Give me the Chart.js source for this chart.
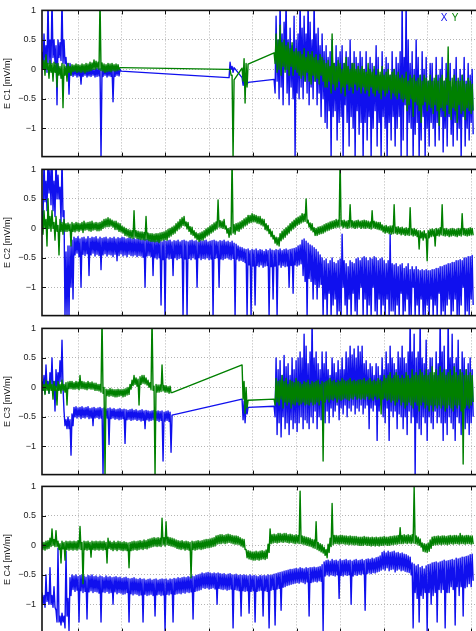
<!DOCTYPE html>
<html><head><meta charset="utf-8">
<script src="https://cdn.jsdelivr.net/npm/chart.js@4.4.0/dist/chart.umd.min.js"></script>
<style>
html,body{margin:0;padding:0;width:476px;height:631px;overflow:hidden;background:#fff;}
canvas{position:absolute;left:0;}
</style></head><body>
<canvas id="p0" width="480" height="169" style="top:-1px;width:480px;height:169px"></canvas>
<canvas id="p1" width="480" height="169" style="top:158px;width:480px;height:169px"></canvas>
<canvas id="p2" width="480" height="169" style="top:317px;width:480px;height:169px"></canvas>
<canvas id="p3" width="480" height="169" style="top:475px;width:480px;height:169px"></canvas>
<script>
const _ = null;
// time axis (hours). Each series is stored as two sample lists: "U" = the high sample of every
// time bin (at t0 + i*dt) and "L" = the low sample of the same bin (half a bin later).
const t0 = 0.176, dt = 0.04577;
const xRange = [0.176, 10.15];
const xGrid = [1,2,3,4,5,6,7,8,9,10];
const yRange = [-1.48, 1];
const yTicks = [-1, -0.5, 0, 0.5, 1];
const panelLabels = ['E C1 [mV/m]', 'E C2 [mV/m]', 'E C3 [mV/m]', 'E C4 [mV/m]'];
const seriesNames = ['X', 'Y'];

// ================= C1 =================
const c1XU = [
0.3,0.6,0.4,1.2,0.5,1.2,0.5,0.4,0.5,0.45,1.2,0.5,0.2,0.1,0.1,
0.02,0,0.03,0.01,0,0.02,0.01,0.03,0,0.02,0.01,0,0.03,0.02,0.01,0,0.03,0.02,0,0.01,0.02,0,0.01,0.02,0,
_,_,_,_,_,_,_,_,_,_,
_,_,_,_,_,_,_,_,_,_,
_,_,_,_,_,_,_,_,_,_,
_,_,_,_,_,_,_,_,_,_,
_,_,_,_,_,_,_,_,_,_,
_,_,_,
-0.14,0.12,0.05,0.03,
_,_,_,
-0.14,-0.16,-0.18,-0.22,
_,_,_,_,_,_,_,_,_,_,_,_,
-0.17,0.9,0.5,1.2,0.6,0.8,1.2,0.5,0.7,0.4,0.9,0.5,0.6,
1.2,0.7,0.9,0.6,1.2,0.8,0.5,1.2,0.6,0.7,0.4,0.6,0.3,
0.4,0.2,0.3,0.5,0.1,0.4,0.2,0.3,0.4,0.1,0.3,0.2,0.5,0.1,0.3,0.2,0.1,0.3,
0.2,0,0.3,-0.1,0.2,0.1,0,0.4,0.2,-0.1,0.3,0,0.2,0.1,-0.1,0.3,0,0.2,0.1,0.3,
1.2,0.2,1.2,0.5,0.1,0.3,0,0.5,0.2,-0.1,0.3,0,0.2,-0.2,0.1,
0.1,-0.2,0.2,-0.1,0,0.2,-0.2,0.1,-0.1,0.1,-0.3,0,0.2,-0.2,0,-0.1,0.2,-0.2,0.1,-0.1,0
];
const c1XL = [
0,0.1,-0.05,0.1,0.1,0.2,0.1,-0.6,0.2,0.15,0.1,0.1,-0.1,-0.42,-0.1,
-0.12,-0.1,-0.13,-0.11,-0.25,-0.12,-0.1,-0.13,-0.11,-0.12,-0.1,-0.13,-0.12,-0.11,-1.5,-0.12,-0.1,-0.13,-0.11,-0.12,-0.55,-0.12,-0.1,-0.11,-0.03,
_,_,_,_,_,_,_,_,_,_,
_,_,_,_,_,_,_,_,_,_,
_,_,_,_,_,_,_,_,_,_,
_,_,_,_,_,_,_,_,_,_,
_,_,_,_,_,_,_,_,_,_,
_,_,_,
-0.14,0,-0.05,_,
_,_,_,
-0.27,-0.24,-0.25,_,
_,_,_,_,_,_,_,_,_,_,_,_,
-0.4,-0.2,-0.5,-0.3,-0.6,0,-0.4,-0.6,-0.3,-0.5,-1.5,-0.4,-0.5,
-0.3,-0.5,-0.2,-0.4,-0.6,-0.3,-0.5,-0.2,-0.6,-0.4,-0.8,-0.5,-0.9,
-1.0,-0.7,-1.5,-0.8,-0.7,-1.2,-0.9,-0.8,-1.5,-0.6,-0.9,-1.3,-0.8,-1.0,-1.5,-0.7,-1.1,-0.9,
-1.5,-0.9,-1.2,-0.8,-1.5,-1.0,-0.7,-1.3,-0.9,-1.5,-0.8,-1.0,-1.5,-0.9,-1.2,-0.8,-1.3,-1.0,-0.8,-1.5,
-1.2,-0.6,-1.5,-0.9,-1.0,-1.5,-1.1,-0.9,-1.5,-1.2,-0.8,-1.5,-1.0,-1.3,-0.9,
-1.0,-1.3,-0.9,-1.2,-0.8,-1.4,-1.0,-1.3,-0.8,-1.1,-1.3,-0.9,-1.2,-1.0,-1.5,-0.8,-1.3,-1.0,-1.2,-0.9,-1.1
];
const c1YU = [
0.2,0.15,0.25,0.1,0.15,0.1,0.12,0.1,0.1,0.05,0.1,0.08,0.05,0.1,0.05,
0.08,0.07,0.09,0.08,0.07,0.09,0.08,0.1,0.09,0.12,0.11,0.16,0.14,0.12,1.2,0.11,0.09,0.08,0.1,0.09,0.1,0.08,0.09,0.08,0.03,
_,_,_,_,_,_,_,_,_,_,
_,_,_,_,_,_,_,_,_,_,
_,_,_,_,_,_,_,_,_,_,
_,_,_,_,_,_,_,_,_,_,
_,_,_,_,_,_,_,_,_,_,
_,_,_,
0,0,-0.1,-0.18,
_,_,_,
0.02,0.18,0.1,0.09,
_,_,_,_,_,_,_,_,_,_,_,_,
0.28,0.6,0.5,0.75,0.45,0.5,0.4,0.45,0.35,0.45,0.3,0.35,0.3,
0.3,0.25,0.35,0.2,0.3,0.25,0.3,0.2,0.25,0.15,0.25,0.2,0.15,
0.1,0.15,0.05,0.6,0.1,0.05,0.15,0.1,0,0.1,0.2,0.05,0,0.1,0.1,0,0.05,0,
0.05,0,-0.05,0.1,0,-0.05,0.05,-0.1,0,-0.05,0.05,-0.1,-0.05,0,-0.1,-0.05,0,-0.1,-0.05,-0.15,
-0.1,-0.15,-0.05,-0.2,-0.1,-0.15,-0.1,-0.2,-0.15,-0.1,-0.2,-0.1,-0.15,-0.2,-0.1,
-0.2,-0.15,-0.1,-0.2,-0.15,-0.1,-0.2,-0.15,0.38,-0.2,-0.15,-0.1,-0.2,-0.15,-0.2,-0.1,-0.2,-0.25,-0.15,-0.2,-0.25
];
const c1YL = [
0,-0.1,0,-0.15,-0.05,-0.2,-0.05,-0.3,-0.1,-0.15,-0.65,-0.1,-0.2,-0.05,-0.1,
-0.04,-0.03,-0.05,-0.04,-0.05,-0.04,-0.06,-0.04,-0.03,-0.02,0,0,0.02,0,-0.02,-0.03,-0.05,-0.04,-0.03,-0.04,-0.02,-0.03,-0.02,-0.01,0.03,
_,_,_,_,_,_,_,_,_,_,
_,_,_,_,_,_,_,_,_,_,
_,_,_,_,_,_,_,_,_,_,
_,_,_,_,_,_,_,_,_,_,
_,_,_,_,_,_,_,_,_,_,
_,_,_,
0,-0.1,-1.5,_,
_,_,_,
-0.2,-0.57,-0.3,_,
_,_,_,_,_,_,_,_,_,_,_,_,
0.1,-0.05,0,-0.1,0.05,-0.05,0,-0.1,0.05,-0.1,0,-0.05,-0.1,
-0.15,-0.1,-0.2,-0.05,-0.2,-0.25,-0.1,-0.2,-0.15,-0.25,-0.1,-0.2,-0.3,
-0.3,-0.2,-0.4,-0.25,-0.35,-0.3,-0.2,-0.4,-0.3,-0.45,-0.25,-0.35,-0.3,-0.4,-0.25,-0.35,-0.3,-0.4,
-0.3,-0.4,-0.35,-0.45,-0.3,-0.4,-0.45,-0.35,-0.4,-0.5,-0.35,-0.45,-0.4,-0.35,-0.5,-0.4,-0.45,-0.5,-0.4,-0.5,
-0.55,-0.5,-0.7,-0.6,-0.5,-0.8,-0.55,-0.6,-0.7,-0.9,-0.6,-0.55,-0.7,-0.6,-0.65,
-0.75,-0.6,-0.7,-0.95,-0.65,-0.7,-0.8,-0.6,-0.75,-0.85,-0.65,-0.7,-0.9,-0.6,-0.75,-0.7,-0.85,-0.65,-0.7,-0.75,-0.7
];

// ================= C2 =================
const c2XU = [
0.3,1.2,0.8,1.2,1.0,1.2,0.8,1.2,0.9,0.7,1.2,0.3,-0.4,-0.3,-0.3,-0.2,
-0.15,-0.17,-0.14,-0.18,-0.16,-0.15,-0.18,-0.14,-0.17,-0.15,
-0.16,-0.14,-0.18,-0.15,-0.17,-0.16,-0.15,-0.18,-0.16,-0.17,
-0.15,-0.18,-0.16,-0.17,-0.15,-0.16,-0.18,-0.17,-0.16,-0.18,
-0.17,-0.19,-0.17,-0.18,-0.2,-0.17,-0.19,-0.18,-0.2,-0.19,
-0.2,-0.22,-0.19,-0.21,-0.23,-0.2,-0.22,-0.21,-0.2,-0.23,
-0.21,-0.22,-0.2,-0.23,-0.21,-0.2,-0.22,-0.23,-0.21,-0.2,
-0.22,-0.21,-0.23,-0.2,-0.22,-0.21,-0.2,-0.23,-0.22,-0.21,
-0.2,-0.22,-0.23,-0.21,-0.22,-0.2,-0.23,-0.22,-0.24,-0.22,
-0.25,-0.27,-0.3,-0.32,-0.33,-0.35,
-0.36,-0.35,-0.38,-0.36,-0.37,-0.35,-0.38,-0.36,-0.37,-0.39,
-0.36,-0.38,-0.35,-0.37,-0.38,-0.36,-0.37,-0.35,-0.38,-0.36,
-0.35,-0.37,-0.36,-0.35,-0.34,-0.33,-0.3,-0.28,
-0.2,-0.18,-0.22,-0.25,-0.28,-0.3,-0.33,-0.36,-0.4,-0.45,
-0.5,-0.55,-0.52,-0.6,-0.55,-0.5,-0.58,-0.6,-0.55,-0.52,
-0.1,-0.55,-0.6,-0.65,-0.55,-0.58,-0.6,-0.52,-0.5,-0.55,
-0.5,-0.48,-0.5,-0.55,-0.5,-0.52,-0.48,-0.5,-0.55,-0.52,-0.5,-0.55,-0.6,-0.55,-0.1,
-0.6,-0.62,-0.6,-0.65,-0.62,-0.6,-0.68,-0.65,-0.6,-0.7,
-0.65,-0.7,-0.65,-0.7,-0.72,-0.7,-0.72,-0.7,-0.72,
-0.72,-0.7,-0.7,-0.68,-0.68,-0.65,-0.65,-0.63,-0.62,-0.6,
-0.6,-0.58,-0.58,-0.55,-0.55,-0.53,-0.55,-0.5,-0.5,-0.48,
-0.48,-0.46
];
const c2XL = [
0.1,0.45,0.3,0.6,0.4,0.3,0.2,0.5,0.5,0.1,0.2,-1.5,-1.5,-1.5,-1.0,-1.2,
-0.45,-0.42,-0.48,-1.0,-0.44,-0.46,-0.43,-0.8,-0.45,-0.42,
-0.47,-0.44,-0.46,-0.7,-0.45,-0.43,-0.47,-0.44,-0.45,-0.48,
-0.44,-0.55,-0.46,-0.43,-0.47,-0.45,-0.48,-0.44,-0.46,-0.47,
-0.45,-0.48,-0.46,-0.47,-0.49,-1.0,-0.47,-0.46,-0.48,-0.8,
-0.5,-0.52,-0.5,-1.3,-0.53,-1.5,-0.5,-0.52,-0.51,-0.8,
-0.5,-0.53,-0.51,-0.5,-1.5,-0.52,-1.5,-0.51,-0.53,-0.5,
-0.52,-1.0,-0.5,-0.53,-0.51,-0.52,-0.5,-0.53,-0.52,-1.5,
-0.51,-0.5,-1.0,-0.52,-0.53,-0.51,-0.5,-0.52,-0.53,-0.51,
-1.5,-0.52,-0.55,-0.54,-0.56,-0.58,
-1.5,-0.62,-1.5,-0.64,-1.3,-0.63,-0.65,-0.62,-0.66,-0.64,
-0.63,-1.5,-0.65,-1.2,-0.64,-1.5,-0.62,-0.66,-0.63,-0.65,
-0.64,-1.0,-0.63,-1.1,-0.62,-0.64,-0.62,-0.6,
-0.8,-0.9,-1.5,-0.85,-0.9,-1.2,-0.95,-1.2,-1.0,-0.95,
-1.5,-1.2,-1.5,-1.1,-1.5,-1.3,-1.2,-1.5,-1.4,-1.5,
-1.0,-1.3,-1.5,-1.2,-1.5,-1.1,-1.4,-1.5,-1.2,-1.0,
-1.5,-1.2,-1.5,-1.3,-1.5,-1.0,-1.4,-1.5,-1.2,-1.5,-1.3,-1.5,-1.2,-1.5,-1.4,
-1.4,-1.5,-1.3,-1.5,-1.1,-1.5,-1.4,-1.2,-1.5,-1.5,
-1.0,-1.5,-1.3,-1.5,-1.2,-1.5,-1.5,-1.3,-1.5,
-1.2,-1.5,-1.3,-1.5,-1.1,-1.5,-1.4,-1.5,-1.3,-1.2,
-1.5,-1.4,-1.2,-1.5,-1.5,-1.3,-1.0,-1.5,-1.4,-1.5,
-1.2,-1.3
];
const c2YU = [
0.2,0.3,0.15,0.5,0.2,0.3,0.1,0.2,0.05,0.15,0.1,0.15,
0.08,0.09,0.07,0.1,0.08,0.1,0.09,0.08,0.1,0.12,0.09,0.1,0.11,0.12,0.09,0.1,0.09,0.1,
0.12,0.15,0.16,0.18,0.16,0.14,0.12,0.12,0.09,0.08,0.04,
0.02,0,-0.02,-0.03,-0.04,0.3,-0.04,-0.05,-0.06,-0.06,-0.07,0.2,-0.08,-0.09,-0.09,-0.1,-0.09,-0.09,-0.08,-0.07,-0.06,
-0.04,-0.02,0,0.02,0.04,0.08,0.11,0.15,0.18,0.2,
0.11,0.1,0.03,0.02,-0.04,-0.07,-0.09,-0.08,
-0.06,-0.04,-0.01,0.01,0.04,0.06,0.09,0.11,0.48,0.13,0.12,0.15,
0.04,0,0.01,1.2,0.06,0.08,
0.09,0.11,0.13,0.16,0.18,0.22,0.22,0.25,0.23,0.22,0.2,0.2,0.16,
0.15,0.08,0.05,-0.02,-0.05,-0.12,-0.15,-0.16,
-0.09,-0.05,-0.02,0.01,0.04,0.08,0.11,0.14,0.17,0.19,0.21,0.25,0.24,
0.5,0.14,0.09,0.08,0.01,0,
0.02,0.03,0.04,0.06,0.08,0.09,0.11,0.12,0.13,0.15,0.14,
1.2,
0.13,0.14,0.12,0.13,0.4,0.13,0.12,0.13,0.14,0.12,0.13,0.14,0.13,0.12,0.11,0.3,0.12,0.11,0.1,0.1,
0.06,0.04,0.05,0.03,0.04,0.04,0.4,0.02,0.03,0.01,0.02,0,0.01,0,0.35,-0.01,0,-0.02,-0.04,-0.04,-0.06,-0.04,-0.09,-0.04,
-0.02,-0.01,-0.02,0,-0.01,0.01,0.4,-0.01,0,-0.02,-0.01,0,-0.01,-0.02,0,-0.01,0.25,0,-0.01,0,0.01,0
];
const c2YL = [
-0.1,0,-0.3,0,-0.05,0,-0.2,-0.05,-0.45,-0.05,-0.1,-0.05,
-0.05,-0.04,-0.3,-0.05,-0.06,-0.04,-0.05,-0.03,-0.07,-0.03,-0.02,-0.04,-0.05,-0.03,-0.02,-0.04,-0.04,-0.03,
0,0.02,0.03,0.03,0.04,0.02,-0.02,-0.02,-0.05,-0.06,-0.08,
-0.12,-0.13,-0.15,-0.16,-0.17,-0.15,-0.17,-0.18,-0.19,-0.19,-0.2,-0.19,-0.21,-0.22,-0.22,-0.23,-0.22,-0.24,-0.21,-0.2,-0.19,
-0.2,-0.15,-0.13,-0.1,-0.08,-0.04,-0.01,0.02,0.05,0.04,
-0.01,-0.05,-0.1,-0.12,-0.16,-0.19,-0.22,-0.2,
-0.2,-0.16,-0.13,-0.11,-0.08,-0.06,-0.03,-0.01,0.02,0.01,0,-0.01,
-0.08,-0.15,-0.11,-0.08,-0.1,-0.04,
-0.05,-0.01,0.01,0.04,0.06,0.09,0.1,0.11,0.11,0.09,0.08,0.06,0.04,
-0.02,-0.04,-0.09,-0.14,-0.18,-0.25,-0.28,-0.3,
-0.21,-0.18,-0.15,-0.11,-0.08,-0.04,-0.01,0.02,0.05,0.07,0.09,0.11,0.12,
0.09,0.02,-0.03,-0.06,-0.12,-0.12,
-0.1,-0.09,-0.08,-0.06,-0.04,-0.03,-0.01,0,0.01,0.02,0.02,
0.04,
0.01,0.02,0,0.01,0.02,0.01,0,0.01,0.02,0,0.01,0,0.01,0,-0.01,0.01,0,-0.01,-0.02,-0.03,
-0.06,-0.08,-0.07,-0.09,-0.1,-0.09,-0.08,-0.1,-0.09,-0.11,-0.1,-0.12,-0.11,-0.12,-0.11,-0.13,-0.12,-0.14,-0.35,-0.16,-0.2,-0.16,-0.55,-0.16,
-0.14,-0.13,-0.3,-0.12,-0.13,-0.11,-0.12,-0.13,-0.12,-0.14,-0.13,-0.12,-0.13,-0.14,-0.12,-0.13,-0.11,-0.12,-0.13,-0.12,-0.11,-0.12
];

// ================= C3 =================
const c3XU = [
0.1,0.2,0.38,0.1,0.25,0.5,0.1,0.3,0.25,0.45,0.8,
-0.4,-0.55,-0.5,-0.55,-0.45,
-0.34,-0.33,-0.35,-0.34,-0.33,-0.35,-0.34,-0.33,-0.36,-0.35,
-0.34,-0.36,-0.35,-0.34,-0.36,-0.35,-0.37,-0.36,-0.35,-0.37,
-0.36,-0.38,-0.37,-0.36,-0.38,-0.37,-0.38,-0.39,-0.38,-0.37,
-0.39,-0.38,-0.4,-0.39,-0.38,-0.4,-0.39,-0.4,-0.41,-0.4,
-0.39,-0.41,-0.4,-0.41,-0.4,-0.42,-0.41,-0.4,-0.42,-0.47,
_,_,_,_,_,_,_,_,_,_,
_,_,_,_,_,_,_,_,_,_,
_,_,_,_,_,_,_,_,_,_,
_,_,_,_,
-0.2,-0.23,-0.28,-0.34,
_,_,_,_,_,_,_,_,_,_,_,_,
-0.32,0.5,0.3,0.45,0.2,0.54,0.35,0.4,0.2,0.5,0.3,0.45,0.5,
0.6,0.5,0.9,0.7,0.4,0.6,1.2,0.5,0.6,0.4,0.3,0.6,0.4,
0.6,0.3,0.2,0.5,0.4,0.25,0.45,0.3,0.5,0.3,0.6,0.5,0.7,0.55,0.65,0.5,0.7,0.6,
0.7,0.4,0.45,0.3,0.4,0.35,0.2,0.4,0.35,0.2,0.5,0.3,0.6,0.4,0.7,0.5,0.4,0.3,0.6,0.5,
0.7,0.5,0.4,0.6,1.2,0.6,0.9,0.5,0.6,1.2,0.5,0.4,0.8,0.3,0.5,
0.5,0.2,0.6,0.4,1.2,0.6,0.7,0.3,1.2,0.5,0.9,0.4,0.5,0.8,0.3,0.6,0.5,0.3,0.4,0.5,0.3
];
const c3XL = [
-0.05,-0.1,0,-0.1,0,-0.05,-0.4,0,0.05,0.1,0,
-0.65,-0.7,-0.7,-1.15,-0.65,
-0.5,-0.52,-0.5,-0.53,-0.51,-0.52,-0.5,-0.53,-0.52,-0.65,
-0.52,-0.51,-0.53,-0.52,-1.5,-0.53,-0.52,-0.97,-0.53,-0.52,
-0.54,-0.53,-0.55,-0.54,-0.53,-0.95,-0.55,-0.54,-0.56,-0.55,
-0.54,-0.56,-0.55,-0.57,-0.56,-0.7,-0.55,-0.57,-0.56,-0.55,
-0.57,-0.56,-0.58,-0.56,-1.25,-0.57,-0.56,-0.58,-1.1,_,
_,_,_,_,_,_,_,_,_,_,
_,_,_,_,_,_,_,_,_,_,
_,_,_,_,_,_,_,_,_,_,
_,_,_,_,
-0.55,-0.6,-0.45,_,
_,_,_,_,_,_,_,_,_,_,_,_,
-0.5,-0.8,-0.6,-0.84,-0.5,-0.7,-0.6,-0.8,-0.55,-0.7,-0.6,-0.75,-0.6,
-0.5,-0.7,-0.55,-0.6,-0.7,-0.5,-0.6,-0.4,-0.7,-0.5,-0.55,-0.4,-0.6,
-0.4,-0.6,-0.35,-0.5,-0.4,-0.3,-0.55,-0.35,-0.45,-0.3,-0.5,-0.35,-0.4,-0.3,-0.45,-0.35,-0.4,-0.3,
-0.45,-0.35,-0.3,-0.7,-0.35,-0.4,-0.3,-0.9,-0.4,-0.3,-0.5,-0.6,-0.35,-0.9,-0.4,-0.5,-0.4,-0.7,-0.45,-0.5,
-0.7,-0.5,-0.8,-0.4,-0.6,-0.5,-1.5,-0.6,-0.7,-0.8,-0.5,-0.6,-0.9,-0.5,-0.6,
-0.7,-0.4,-0.6,-0.5,-0.6,-0.9,-0.6,-0.8,-0.5,-0.6,-0.7,-0.9,-0.5,-0.6,-0.8,-0.5,-0.7,-0.6,-0.8,-0.6,-0.5
];
const c3YU = [
0.1,0.05,0.12,0.05,0.12,0.05,0.1,0.02,0.1,0.05,0.12,0.05,
0.08,0.09,0.1,0.1,0.08,0.1,0.09,0.2,0.1,0.09,0.08,0.1,0.08,0.09,0.07,0.07,0.05,0.05,
1.2,0,
-0.03,-0.04,-0.02,-0.03,-0.04,-0.04,-0.03,-0.04,-0.04,-0.03,-0.02,0,0.05,
0.12,0.2,0.16,0.14,0.18,0.2,0.2,0.16,0.12,0.08,
1.2,0.02,
0.05,0.04,0.04,0.38,0.03,0.03,0.01,0.02,-0.09,
_,_,_,_,_,_,_,_,_,_,
_,_,_,_,_,_,_,_,_,_,
_,_,_,_,_,_,_,_,_,_,
_,_,_,_,
0.38,0.1,0,-0.22,
_,_,_,_,_,_,_,_,_,_,_,_,
-0.2,0.15,0.1,0.12,0.2,0.1,0.15,0.05,0.12,0.1,0.08,0.15,0.1,
0.08,0.05,0.1,0.08,0.12,0.05,0.1,0.08,0.1,0.12,0.05,0.1,0.08,
0.1,0.12,0.15,0.1,0.12,0.08,0.12,0.1,0.15,0.12,0.1,0.12,0.15,0.1,0.12,0.1,0.12,0.13,
0.12,0.15,0.1,0.12,0.15,0.1,0.12,0.1,0.15,0.12,0.1,0.2,0.15,0.2,0.25,0.15,0.2,0.25,0.2,0.15,
0.2,0.15,0.25,0.2,0.15,0.3,0.2,0.25,0.2,0.3,0.25,0.2,0.3,0.2,0.25,
0.35,0.25,0.3,0.2,0.35,0.25,0.3,0.2,0.25,0.3,0.2,0.35,0.25,0.2,0.3,0.25,0.2,0.3,0.2,0.25,0.2
];
const c3YL = [
-0.05,-0.12,-0.05,-0.1,-0.05,-0.2,-0.05,-0.3,-0.05,-0.1,-0.05,-0.08,
-0.3,-0.02,-0.02,-0.03,-0.03,-0.02,-0.04,-0.02,-0.02,-0.03,-0.04,-0.02,-0.03,-0.03,-0.05,-0.05,-0.06,-0.08,
-0.1,-1.5,
-0.14,-0.15,-0.14,-0.15,-0.16,-0.16,-0.15,-0.14,-0.16,-0.15,-0.13,-0.12,-0.03,
0.03,0.05,0.02,-0.3,0.05,0.07,0.06,0.04,0,-0.04,
-0.05,-1.5,
-0.08,-0.08,-0.07,-0.06,-0.08,-0.08,-0.1,-0.09,_,
_,_,_,_,_,_,_,_,_,_,
_,_,_,_,_,_,_,_,_,_,
_,_,_,_,_,_,_,_,_,_,
_,_,_,_,
-0.2,-0.44,-0.35,_,
_,_,_,_,_,_,_,_,_,_,_,_,
-0.3,-0.25,-0.3,-0.2,-0.35,-0.25,-0.3,-0.25,-0.35,-0.28,-0.3,-0.25,-0.3,
-0.28,-0.25,-0.3,-0.28,-0.3,-0.25,-0.3,-0.28,-0.25,-0.3,-0.22,-1.25,-0.25,
-0.2,-0.25,-0.2,-0.22,-0.18,-0.25,-0.2,-0.22,-0.2,-0.18,-0.2,-0.22,-0.18,-0.2,-0.15,-0.2,-0.18,-0.2,
-0.18,-0.2,-0.15,-0.2,-0.18,-0.22,-0.15,-0.2,-0.18,-0.45,-0.2,-0.18,-0.22,-0.2,-0.25,-0.22,-0.3,-0.25,-0.2,-0.3,
-0.25,-0.35,-0.3,-0.25,-0.3,-0.35,-0.25,-0.3,-0.4,-0.3,-0.25,-0.35,-0.3,-0.4,-0.3,
-0.4,-0.3,-0.35,-0.3,-0.35,-0.3,-0.4,-0.35,-0.3,-0.35,-0.4,-0.3,-0.35,-0.3,-0.4,-1.3,-0.35,-0.3,-0.35,-0.3,-0.25
];

// ================= C4 =================
const c4XU = [
-0.8,-0.85,-0.5,-0.8,-0.38,-0.85,-0.7,
-1.1,-0.05,-1.2,-1.15,-1.2,-0.1,-0.9,-0.55,
-0.5,-0.52,-0.5,-0.53,-0.51,-0.5,-0.52,-0.54,-0.51,-0.52,
-0.5,-0.53,-0.52,-0.54,-0.52,-0.53,-0.55,-0.52,-0.54,-0.53,
-0.55,-0.54,-0.53,-0.55,-0.54,-0.56,-0.55,-0.54,-0.56,-0.57,
-0.56,-0.55,-0.57,-0.58,-0.56,-0.58,-0.57,-0.59,-0.58,-0.57,
-0.59,-0.58,-0.57,-0.59,-0.58,
-0.57,-0.58,-0.57,-0.59,-0.57,-0.58,-0.56,-0.57,-0.55,-0.56,
-0.55,-0.54,-0.55,-0.53,-0.54,-0.52,-0.53,-0.51,-0.5,-0.49,
-0.47,-0.48,-0.47,-0.46,-0.47,-0.48,-0.47,-0.48,-0.47,-0.48,
-0.49,-0.48,-0.5,-0.49,-0.48,-0.5,-0.5,-0.49,-0.51,-0.5,
-0.51,-0.5,-0.51,-0.52,-0.5,
-0.52,-0.51,-0.52,-0.53,-0.51,-0.52,-0.51,-0.52,-0.5,-0.51,
-0.5,-0.49,-0.48,-0.47,-0.46,-0.45,-0.44,-0.43,-0.42,-0.41,
-0.41,-0.4,-0.39,-0.4,-0.38,-0.39,-0.4,-0.38,-0.39,-0.38,
-0.38,-0.37,-0.38,-0.37,-0.36,-0.33,-0.28,
-0.26,-0.25,-0.27,-0.24,-0.26,-0.25,-0.27,-0.24,-0.26,-0.25,
-0.24,-0.26,-0.25,-0.27,-0.25,-0.24,-0.26,-0.25,-0.24,-0.26,
-0.24,-0.23,-0.24,-0.22,-0.23,-0.21,-0.2,-0.18,
-0.12,-0.1,-0.13,-0.1,-0.12,-0.11,-0.1,-0.13,-0.12,-0.14,
-0.13,-0.15,-0.16,-0.18,-0.2,
-0.3,-0.32,-0.35,-0.33,-0.38,-0.36,-0.4,-0.35,-0.33,-0.32,
-0.3,-0.29,-0.28,-0.3,-0.28,-0.27,-0.25,-0.27,-0.26,-0.25,
-0.24,-0.25,-0.22,-0.23,-0.22,-0.2,-0.2,-0.19,-0.18,-0.16,
-0.15
];
const c4XL = [
-1.0,-1.05,-0.95,-1.0,-1.0,-1.05,-1.05,
-1.3,-1.3,-1.35,-1.3,-1.4,-1.2,-1.45,-0.85,
-0.75,-0.78,-0.76,-1.3,-0.77,-0.8,-0.78,-1.25,-0.79,-0.77,
-0.8,-0.78,-0.79,-0.81,-1.3,-0.79,-0.8,-0.78,-0.81,-0.8,
-1.0,-0.79,-0.82,-0.8,-0.81,-0.83,-0.82,-0.8,-1.3,-0.82,
-0.84,-0.82,-0.83,-0.85,-0.84,-1.3,-0.83,-0.85,-0.84,-0.83,
-0.85,-1.2,-0.84,-0.83,-0.85,
-0.84,-1.45,-0.83,-0.84,-0.82,-1.3,-0.83,-0.82,-0.81,-0.82,
-0.8,-0.81,-0.79,-0.8,-0.79,-1.25,-0.78,-0.77,-0.76,-0.75,
-0.72,-0.73,-0.72,-0.74,-0.73,-0.72,-0.74,-1.0,-0.73,-0.74,
-0.75,-0.74,-0.76,-0.75,-0.74,-1.4,-0.75,-0.76,-0.77,-1.2,
-0.77,-0.78,-0.77,-1.15,-0.78,
-0.77,-1.3,-0.78,-0.77,-0.76,-1.2,-0.77,-0.78,-1.4,-0.76,
-0.75,-1.35,-0.74,-0.73,-1.1,-0.71,-0.7,-0.68,-0.67,-0.66,
-0.65,-0.64,-0.63,-0.64,-0.62,-0.63,-0.65,-0.62,-1.2,-0.63,
-0.62,-0.61,-0.62,-0.6,-0.61,-1.45,-0.52,
-0.5,-0.52,-0.5,-0.51,-0.52,-0.5,-0.9,-0.51,-0.52,-0.5,
-0.51,-0.5,-1.0,-0.52,-0.5,-0.51,-0.49,-0.5,-0.48,-1.1,
-0.48,-0.47,-0.48,-0.46,-0.47,-0.45,-0.44,-0.42,
-0.4,-0.42,-0.38,-0.43,-0.41,-0.4,-0.45,-0.42,-0.4,-0.43,
-0.42,-0.44,-0.45,-0.46,-0.5,
-1.4,-0.8,-0.9,-1.3,-0.85,-0.9,-0.8,-1.45,-0.8,-1.0,
-0.85,-0.8,-1.3,-0.75,-0.8,-0.75,-1.4,-0.8,-0.8,-0.7,
-0.75,-1.35,-0.7,-0.85,-0.7,-1.2,-0.72,-0.7,-0.65,-0.7,
-0.6
];
const c4YU = [
0.06,0.05,0.07,0.08,0.12,0.28,0.1,0.25,0.07,0.03,
0.07,0.05,0.07,0.06,0.07,0.06,0.07,0.06,0.08,0.32,
0.05,0.07,0.06,0.07,0.05,0.07,0.06,0.07,0.06,0.07,
0.06,0.07,0.05,0.12,0.07,0.05,0.07,0.05,0.07,0.06,
0.05,0.06,0.05,0.04,0.05,0.06,0.07,0.06,0.07,0.08,
0.07,0.09,0.08,0.1,0.11,0.12,0.13,0.12,0.13,0.12,
0.46,0.13,0.4,0.14,0.13,0.12,0.11,
0.09,0.08,0.07,0.08,0.06,0.07,0.06,0.05,0.07,0.06,
0.07,0.08,0.07,0.08,0.09,0.1,0.1,0.11,0.12,0.13,
0.16,0.17,0.18,0.18,0.17,0.18,0.19,0.18,0.17,0.16,
0.16,0.15,0.13,0.11,0.1,
-0.07,-0.09,-0.1,-0.11,-0.11,-0.1,-0.11,-0.1,-0.09,-0.1,
-0.08,0.02,
0.28,0.18,0.19,0.18,0.2,0.2,0.19,0.2,0.2,0.18,
0.19,0.18,0.17,0.18,0.17,0.92,0.16,0.15,
0.14,0.13,0.12,0.1,0.09,0.4,0.05,0.03,0.01,-0.03,
-0.07,0.02,
0.12,0.71,0.17,
0.17,0.16,0.17,0.17,0.16,0.16,0.15,0.16,0.15,0.15,
0.15,0.14,0.14,0.14,0.15,0.14,0.14,0.13,0.14,0.13,
0.14,0.13,0.14,0.14,0.15,0.14,0.14,0.15,0.15,0.16,
0.16,0.17,0.3,
0.17,0.18,0.17,0.18,0.17,0.18,1.0,0.16,0.14,0.11,
0.04,0.03,0.02,0.04,0.09,
0.14,0.15,0.15,0.16,0.15,0.16,0.16,0.15,0.16,0.17,
0.16,0.17,0.17,0.16,0.2,0.17,0.16,0.17,0.17,0.16,
0.16
];
const c4YL = [
-0.07,-0.08,-0.06,-0.05,-0.02,0,-0.02,-0.02,-0.07,-0.3,
-0.06,-0.25,-0.07,-0.08,-0.07,-0.08,-0.07,-0.08,-0.06,-0.07,
-0.65,-0.07,-0.08,-0.07,-0.2,-0.07,-0.08,-0.07,-0.08,-0.07,
-0.08,-0.07,-0.3,-0.05,-0.07,-0.09,-0.07,-0.09,-0.07,-0.08,
-0.09,-0.08,-0.09,-0.38,-0.09,-0.08,-0.07,-0.08,-0.07,-0.06,
-0.07,-0.05,-0.06,-0.04,-0.03,-0.02,-0.01,-0.02,-0.01,-0.02,
0.01,-0.01,0.01,0,-0.01,-0.02,-0.03,
-0.05,-0.06,-0.07,-0.06,-0.08,-0.07,-0.08,-0.55,-0.07,-0.08,
-0.07,-0.06,-0.07,-0.06,-0.05,-0.04,-0.04,-0.03,-0.02,-0.01,
0.02,0.03,0.03,0.04,0.03,0.04,0.05,0.04,0.03,0.02,
0.02,0.01,-0.01,-0.03,-0.07,
-0.21,-0.23,-0.24,-0.25,-0.25,-0.24,-0.25,-0.24,-0.23,-0.24,
-0.22,-0.12,
0.03,0.04,0.05,0.04,0.05,0.06,0.05,0.06,0.05,0.04,
0.05,0.04,0.03,0.04,0.03,0.03,0.02,0.01,
0,-0.01,-0.02,-0.04,-0.05,-0.07,-0.09,-0.11,-0.13,-0.17,
-0.21,-0.12,
-0.02,0.01,0.03,
0.03,0.02,0.03,0.03,0.02,0.02,0.01,0.02,0.01,0.01,
0.01,0,0,0,0.01,0,0,-0.01,0,-0.01,
0,-0.01,0,0,0.01,0,0,0.01,0.01,0.02,
0.02,0.03,0.03,
0.03,0.04,0.03,0.04,0.03,0.04,0.03,0.02,0,-0.03,
-0.1,-0.11,-0.12,-0.1,-0.05,
0,0.01,0.01,0.02,0.01,0.02,0.02,0.01,0.02,0.03,
0.02,0.03,0.03,0.02,0.03,0.03,0.02,0.03,0.03,0.02,
0.02
];

const panelsX = [[c1XU, c1XL], [c2XU, c2XL], [c3XU, c3XL], [c4XU, c4XL]];
const panelsY = [[c1YU, c1YL], [c2YU, c2YL], [c3YU, c3YL], [c4YU, c4YL]];

const BLUE = 'rgb(16,16,238)';
const GREEN = 'rgb(0,128,0)';
const FONT = "'Liberation Sans', Arial, Helvetica, sans-serif";

function fmt(v){ return v < 0 ? '\u2212' + Math.abs(v) : String(v); }
// put both sample lists in time order: high sample, then low sample of each bin
function toPts(pair){
  const [u, l] = pair, pts = [];
  u.forEach((v, i) => {
    pts.push({x: t0 + i*dt, y: v});
    pts.push({x: t0 + (i + 0.5)*dt, y: l[i]});
  });
  return pts;
}

const framePlugin = {
  id: 'frame',
  afterDatasetsDraw(chart){
    const {ctx, chartArea: a} = chart;
    const xs = chart.scales.x, ys = chart.scales.y;
    ctx.save();
    ctx.strokeStyle = '#111';
    ctx.lineWidth = 1;
    ctx.beginPath();
    xGrid.forEach(v => {
      const p = Math.round(xs.getPixelForValue(v)) + 0.5;
      ctx.moveTo(p, a.top); ctx.lineTo(p, a.top + 4);
      ctx.moveTo(p, a.bottom); ctx.lineTo(p, a.bottom - 4);
    });
    yTicks.forEach(v => {
      const p = Math.round(ys.getPixelForValue(v)) + 0.5;
      ctx.moveTo(a.left, p); ctx.lineTo(a.left + 4, p);
    });
    ctx.stroke();
    ctx.lineWidth = 1.6;
    ctx.strokeRect(a.left, a.top, a.right - a.left, a.bottom - a.top);
    ctx.restore();
  }
};

const legendPlugin = {
  id: 'xyLegend',
  afterDraw(chart, args, opts){
    if (!opts.show) return;
    const {ctx, chartArea: a} = chart;
    ctx.save();
    ctx.font = "10px " + FONT;
    ctx.textBaseline = 'alphabetic';
    ctx.textAlign = 'center';
    const byName = {};
    chart.data.datasets.forEach(d => byName[d.label] = d.borderColor);
    ctx.fillStyle = byName[seriesNames[0]];
    ctx.fillText(seriesNames[0], a.right - 34, a.top + 11);
    ctx.fillStyle = byName[seriesNames[1]];
    ctx.fillText(seriesNames[1], a.right - 23, a.top + 11);
    ctx.restore();
  }
};

panelLabels.forEach((label, k) => {
  new Chart(document.getElementById('p' + k), {
    type: 'line',
    data: {
      datasets: [
        {label: seriesNames[1], data: toPts(panelsY[k]), borderColor: GREEN, borderWidth: 1.4, borderJoinStyle: 'round', pointRadius: 0, tension: 0, order: 0},
        {label: seriesNames[0], data: toPts(panelsX[k]), borderColor: BLUE, borderWidth: 1.4, borderJoinStyle: 'round', pointRadius: 0, tension: 0, order: 1}
      ]
    },
    options: {
      responsive: false,
      animation: false,
      spanGaps: true,
      events: [],
      layout: {padding: {top: 8, bottom: 8, left: 0, right: 2}},
      plugins: {legend: {display: false}, tooltip: {enabled: false}, xyLegend: {show: k === 0}},
      scales: {
        x: {
          type: 'linear', min: xRange[0], max: xRange[1],
          afterBuildTicks: s => { s.ticks = xGrid.map(v => ({value: v})); },
          ticks: {display: false},
          grid: {color: '#b4b4b4', drawTicks: false, lineWidth: 1},
          border: {display: false, dash: [1, 2]},
          afterFit: s => { s.height = 0; }
        },
        y: {
          min: yRange[0], max: yRange[1],
          afterBuildTicks: s => { s.ticks = yTicks.map(v => ({value: v})); },
          ticks: {font: {family: FONT, size: 9}, color: '#222', padding: 6, callback: v => fmt(v)},
          grid: {color: '#b4b4b4', drawTicks: false, lineWidth: 1},
          border: {display: false, dash: [1, 2]},
          title: {display: true, text: label, font: {family: FONT, size: 9}, color: '#222', padding: {top: 2, bottom: 0}},
          afterFit: s => { s.width = 42; }
        }
      }
    },
    plugins: [framePlugin, legendPlugin]
  });
});
</script>
</body></html>
